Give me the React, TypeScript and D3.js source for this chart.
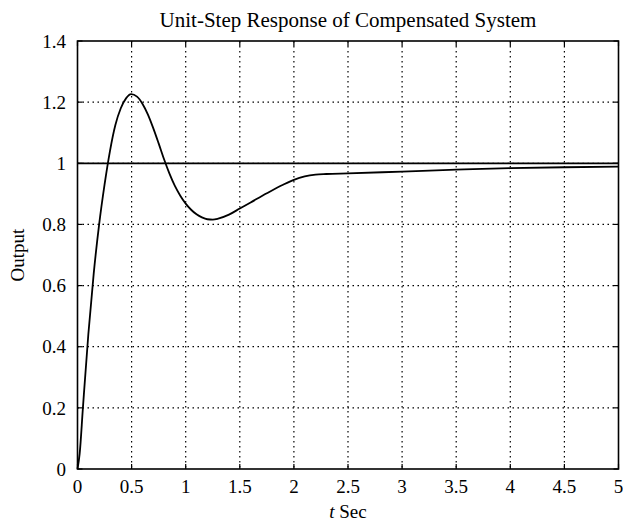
import React from "react";
import * as d3 from "d3";

const timeValues = [0, 0.02, 0.05, 0.1, 0.15, 0.2, 0.25, 0.3, 0.35, 0.4, 0.45, 0.495, 0.55, 0.6, 0.65, 0.7, 0.75, 0.8, 0.85, 0.9, 0.95, 1.0, 1.05, 1.1, 1.15, 1.2, 1.25, 1.3, 1.4, 1.5, 1.6, 1.75, 1.9, 2.0, 2.1, 2.2, 2.3, 2.5, 3.0, 3.5, 4.0, 4.5, 5.0];
const outputValues = [0, 0.05, 0.2, 0.44, 0.64, 0.8, 0.93, 1.04, 1.125, 1.18, 1.213, 1.226, 1.218, 1.195, 1.16, 1.115, 1.065, 1.013, 0.966, 0.926, 0.894, 0.868, 0.848, 0.833, 0.823, 0.817, 0.816, 0.819, 0.832, 0.852, 0.872, 0.902, 0.93, 0.946, 0.957, 0.963, 0.965, 0.967, 0.973, 0.979, 0.984, 0.987, 0.989];
const referenceT = [0, 5];
const referenceY = [1, 1];
const xTicks = [0, 0.5, 1, 1.5, 2, 2.5, 3, 3.5, 4, 4.5, 5];
const yTicks = [0, 0.2, 0.4, 0.6, 0.8, 1, 1.2, 1.4];

const W = 623;
const H = 523;
const left = 77.5;
const right = 618.5;
const top = 41;
const bottom = 469;
const font = "'Liberation Serif', 'Times New Roman', serif";

export default function App() {
  const x = d3.scaleLinear().domain([0, 5]).range([left, right]);
  const y = d3.scaleLinear().domain([0, 1.4]).range([bottom, top]);
  const line = d3
    .line<[number, number]>()
    .x((d) => x(d[0]))
    .y((d) => y(d[1]))
    .curve(d3.curveMonotoneX);
  const resp: [number, number][] = timeValues.map((t, i) => [t, outputValues[i]]);
  const ref: [number, number][] = referenceT.map((t, i) => [t, referenceY[i]]);
  const tickLen = 5;

  return (
    <svg
      width={W}
      height={H}
      style={{ position: "absolute", left: 0, top: 0, background: "#fff" }}
      fontFamily={font}
    >
      <rect x={0} y={0} width={W} height={H} fill="#fff" />
      {xTicks.slice(1, -1).map((t) => (
        <line key={"gx" + t} x1={x(t)} x2={x(t)} y1={top} y2={bottom} stroke="#000" strokeWidth={1.2} strokeDasharray="1.5,3.5" />
      ))}
      {yTicks.slice(1, -1).map((v) => (
        <line key={"gy" + v} x1={left} x2={right} y1={y(v)} y2={y(v)} stroke="#000" strokeWidth={1.2} strokeDasharray="1.5,3.5" />
      ))}
      {xTicks.map((t) => (
        <g key={"tx" + t}>
          <line x1={x(t)} x2={x(t)} y1={bottom} y2={bottom - tickLen} stroke="#000" strokeWidth={1.2} />
          <line x1={x(t)} x2={x(t)} y1={top} y2={top + tickLen} stroke="#000" strokeWidth={1.2} />
          <text x={x(t)} y={493} textAnchor="middle" fontSize={19}>
            {String(t)}
          </text>
        </g>
      ))}
      {yTicks.map((v) => (
        <g key={"ty" + v}>
          <line x1={left} x2={left + tickLen} y1={y(v)} y2={y(v)} stroke="#000" strokeWidth={1.2} />
          <line x1={right} x2={right - tickLen} y1={y(v)} y2={y(v)} stroke="#000" strokeWidth={1.2} />
          <text x={66} y={y(v)} dy="0.35em" textAnchor="end" fontSize={19}>
            {String(v)}
          </text>
        </g>
      ))}
      <path d={line(ref) || ""} fill="none" stroke="#000" strokeWidth={1.8} />
      <path d={line(resp) || ""} fill="none" stroke="#000" strokeWidth={1.8} />
      <rect x={left} y={top} width={right - left} height={bottom - top} fill="none" stroke="#000" strokeWidth={1.6} />
      <text x={(left + right) / 2} y={27} textAnchor="middle" fontSize={21}>
        Unit-Step Response of Compensated System
      </text>
      <text x={(left + right) / 2} y={518} textAnchor="middle" fontSize={19}>
        <tspan fontStyle="italic">t</tspan> Sec
      </text>
      <text transform={`translate(24,${(top + bottom) / 2}) rotate(-90)`} textAnchor="middle" fontSize={19}>
        Output
      </text>
    </svg>
  );
}
